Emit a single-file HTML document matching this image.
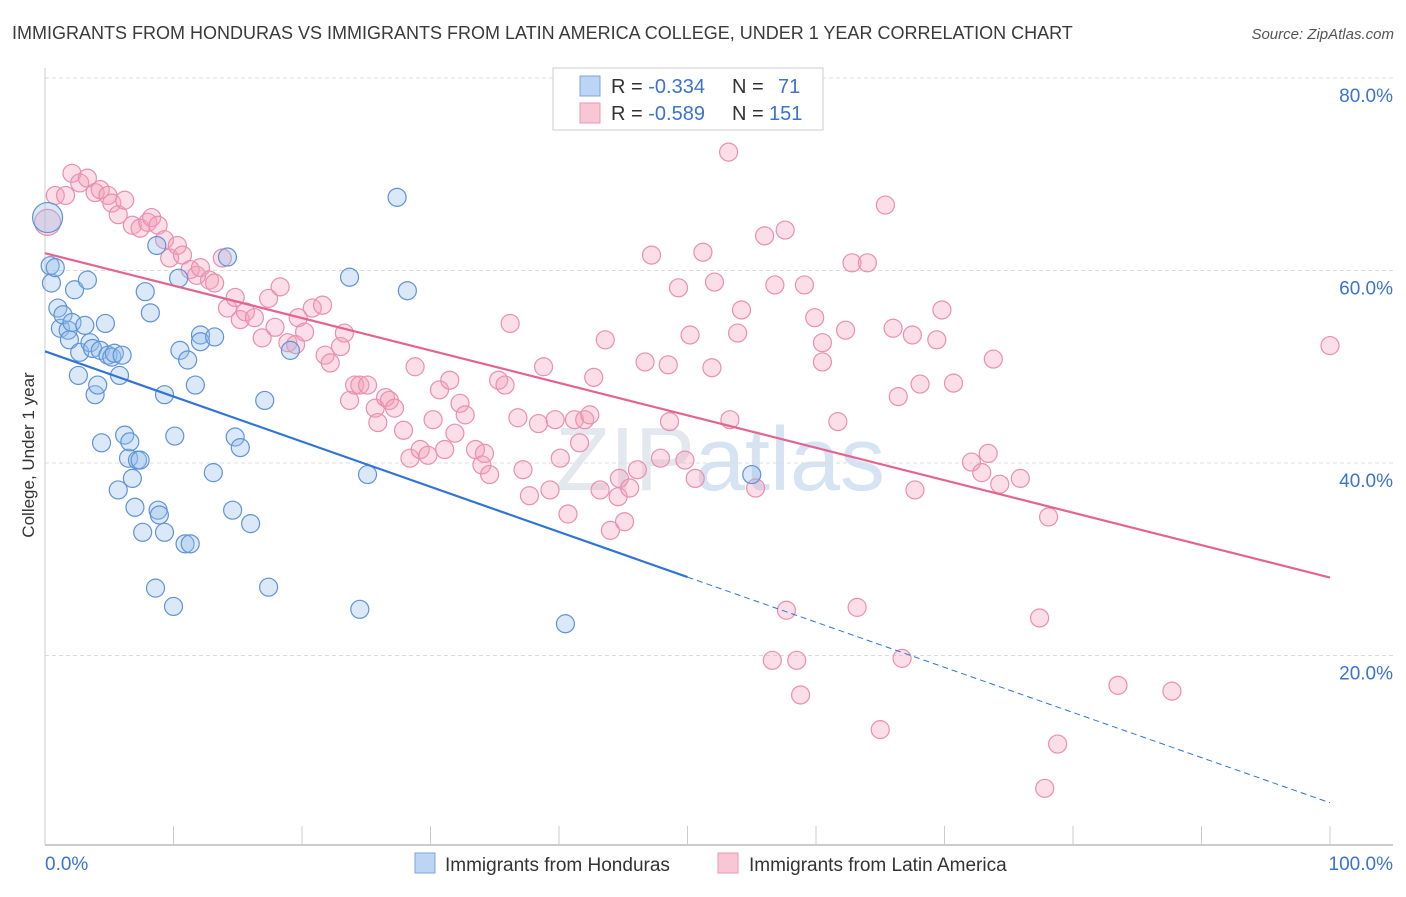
<!DOCTYPE html>
<html><head><meta charset="utf-8"><style>
body{margin:0;background:#fff;font-family:"Liberation Sans",sans-serif;}
svg text{font-family:"Liberation Sans",sans-serif;}
</style></head><body>
<svg id="chart" width="1406" height="892" viewBox="0 0 1406 892" xmlns="http://www.w3.org/2000/svg">
<text x="12" y="39" font-size="18" fill="#3a3a3a">IMMIGRANTS FROM HONDURAS VS IMMIGRANTS FROM LATIN AMERICA COLLEGE, UNDER 1 YEAR CORRELATION CHART</text>
<text x="1394" y="39" font-size="15" fill="#555" text-anchor="end" font-style="italic">Source: ZipAtlas.com</text>
<text x="720" y="490" font-size="90" fill="#e3e8ee" text-anchor="middle" font-family="Liberation Serif">ZIP<tspan fill="#d5e3f3" font-family="Liberation Sans">atlas</tspan></text>
<g id="grid"></g>
<g id="axes"></g>
<g id="pink"></g>
<g id="blue"></g>
<g id="trends"></g>
<text transform="translate(34,455) rotate(-90)" font-size="17" fill="#333" text-anchor="middle">College, Under 1 year</text>
<g>
<rect x="553" y="68" width="270" height="62" fill="#fff" stroke="#ccc"/>
<rect x="580" y="76" width="20" height="20" fill="#bcd5f5" stroke="#7aa6dc"/>
<text x="611" y="93" font-size="20" fill="#333">R = <tspan fill="#3b73d0">-0.334</tspan><tspan x="732">N = </tspan><tspan x="778" fill="#3b73d0">71</tspan></text>
<rect x="580" y="103" width="20" height="20" fill="#f9c6d5" stroke="#eb97b2"/>
<text x="611" y="120" font-size="20" fill="#333">R = <tspan fill="#3b73d0">-0.589</tspan><tspan x="732">N = </tspan><tspan x="769" fill="#3b73d0">151</tspan></text>
</g>
<g>
<rect x="415" y="853" width="20" height="20" fill="#bcd5f5" stroke="#7aa6dc"/>
<text x="445" y="871" font-size="19" fill="#333">Immigrants from Honduras</text>
<rect x="718" y="853" width="20" height="20" fill="#f9c6d5" stroke="#eb97b2"/>
<text x="749" y="871" font-size="19" fill="#333">Immigrants from Latin America</text>
</g>
</svg>
<script>
const blueX=[0.2,0.4,0.5,0.8,1.0,1.2,1.4,1.8,1.9,2.1,2.3,2.6,2.7,3.1,3.3,3.5,3.7,3.9,4.1,4.3,4.4,4.7,4.9,5.2,5.4,5.7,5.8,6.0,6.2,6.5,6.6,6.8,7.0,7.2,7.4,7.6,7.8,8.2,8.6,8.7,8.8,8.9,9.3,9.3,10.0,10.1,10.4,10.5,10.9,11.1,11.3,11.7,12.1,12.1,13.1,13.2,14.2,14.6,14.8,15.2,16.0,17.1,17.4,19.1,23.7,24.5,25.1,27.4,28.2,40.5,55.0];
const blueY=[65.5,60.5,58.7,60.3,56.1,54.0,55.4,53.8,52.8,54.6,58.0,49.1,51.5,54.3,59.0,52.5,51.9,47.1,48.1,51.7,42.1,54.5,51.2,51.0,51.4,37.2,49.1,51.2,42.9,40.5,42.2,38.4,35.4,40.3,40.3,32.8,57.8,55.6,27.0,62.6,35.1,34.6,47.1,32.8,25.1,42.8,59.2,51.7,31.6,50.7,31.6,48.1,53.3,52.6,39.0,53.1,61.4,35.1,42.7,41.6,33.7,46.5,27.1,51.7,59.3,24.8,38.8,67.6,57.9,23.3,38.8];
const pinkX=[0.2,0.8,1.6,2.1,2.7,3.3,3.9,4.3,4.9,5.2,5.7,6.2,6.8,7.4,8.0,8.3,8.8,9.3,9.7,10.3,10.7,11.3,11.8,12.1,12.8,13.2,13.8,14.2,14.8,15.2,15.6,16.3,16.9,17.4,17.9,18.3,18.9,19.5,19.7,20.2,20.8,21.6,21.8,22.2,23.0,23.3,23.7,24.1,24.5,25.1,25.7,25.9,26.5,26.8,27.2,27.9,28.4,28.8,29.2,29.8,30.2,30.7,31.1,31.5,31.9,32.3,32.7,33.5,34.0,34.2,34.6,35.3,35.8,36.2,36.8,37.2,37.7,38.4,38.8,39.3,39.7,40.1,40.7,41.2,41.6,42.0,42.4,42.7,43.2,43.6,44.0,44.6,44.7,45.1,45.5,46.1,46.7,47.2,47.9,48.5,48.6,49.3,49.8,50.2,50.6,51.2,51.9,52.1,53.2,53.3,53.9,54.2,55.3,56.0,56.6,56.8,57.6,57.7,58.5,58.8,59.1,59.9,60.5,60.5,61.7,62.3,62.8,63.2,64.0,65.0,65.4,66.0,66.4,66.7,67.5,67.7,68.1,69.4,69.8,70.7,72.1,72.9,73.4,73.8,74.3,75.9,77.4,78.1,77.8,78.8,83.5,87.7,100.0];
const pinkY=[65.0,67.8,67.8,70.1,69.1,69.6,68.1,68.4,67.8,67.0,65.8,67.3,64.7,64.4,65.0,65.5,64.7,63.2,61.3,62.6,61.6,60.1,59.5,60.3,59.0,58.7,61.3,56.1,57.2,54.9,55.7,55.1,53.0,57.1,54.1,58.3,52.5,52.3,55.1,53.6,56.1,56.4,51.2,50.4,52.1,53.5,46.5,48.1,48.1,48.1,45.7,44.2,46.8,46.5,45.7,43.4,40.5,50.0,41.4,40.8,44.5,47.6,41.4,48.6,43.1,46.2,45.0,41.4,39.8,41.0,38.8,48.6,48.1,54.5,44.7,39.3,36.6,44.1,50.0,37.2,44.5,40.5,34.7,44.5,42.1,44.5,45.0,48.9,37.2,52.8,33.0,36.5,38.4,33.9,37.4,39.3,50.5,61.6,40.5,50.2,44.3,58.2,40.3,53.3,38.4,61.9,49.9,58.8,72.3,44.5,53.5,55.9,37.4,63.6,19.5,58.5,64.2,24.7,19.5,15.9,58.5,55.1,52.5,50.5,44.3,53.8,60.8,25.0,60.8,12.3,66.8,54.0,46.9,19.7,53.3,37.2,48.2,52.8,55.9,48.3,40.1,39.0,41.0,50.8,37.8,38.4,23.9,34.4,6.2,10.8,16.9,16.3,52.2];
const blueTrend=[51.6,4.7];
const pinkTrend=[61.8,28.1];
const yTicks=[20,40,60,80];
const yTickLabels=["20.0%","40.0%","60.0%","80.0%"];
const xTicks=[0,10,20,30,40,50,60,70,80,90,100];

const NS="http://www.w3.org/2000/svg";
const X=v=>45+v*12.85;
const Y=v=>848-v*9.625;
function mk(parent,tag,attrs){const e=document.createElementNS(NS,tag);for(const k in attrs)e.setAttribute(k,attrs[k]);document.getElementById(parent).appendChild(e);return e;}

yTicks.forEach((t,i)=>{
  const g=mk('grid','line',{x1:45,x2:1393,y1:Y(t),y2:Y(t),stroke:'#dcdcdc','stroke-dasharray':'4,3'});
  
  
  const l=mk('grid','text',{x:1393,y:Y(t)+24,'font-size':19,fill:'#3b73d0','text-anchor':'end'});
  l.textContent=yTickLabels[i];
  
  
});
const ax=mk('axes','line',{x1:45,x2:1393,y1:845,y2:845,stroke:'#bbb','stroke-width':1.5});


const ay=mk('axes','line',{x1:45,x2:45,y1:68,y2:845,stroke:'#ccc'});


xTicks.forEach(t=>{
  const tk=mk('axes','line',{x1:X(t),x2:X(t),y1:826,y2:845,stroke:'#ccc'});
  
  
});
const x0=mk('axes','text',{x:45,y:870,'font-size':19,fill:'#3b73d0'});x0.textContent='0.0%';


const x1=mk('axes','text',{x:1393,y:870,'font-size':19,fill:'#3b73d0','text-anchor':'end'});x1.textContent='100.0%';



pinkX.forEach((v,i)=>{
  const c=mk('pink','circle',{cx:X(v),cy:Y(pinkY[i]),r:i===0?13:9,fill:'rgba(244,160,187,0.35)',stroke:'#ea8fae','stroke-width':1.2});
  
  
});
blueX.forEach((v,i)=>{
  const c=mk('blue','circle',{cx:X(v),cy:Y(blueY[i]),r:i===0?15:9,fill:'rgba(150,190,235,0.35)',stroke:'#5f93d8','stroke-width':1.2});
  
  
});
const bAt=p=>blueTrend[0]+(blueTrend[1]-blueTrend[0])*p/100;
const tb=mk('trends','line',{x1:X(0),y1:Y(bAt(0)),x2:X(50),y2:Y(bAt(50)),stroke:'#2f74d6','stroke-width':2.2});


const tbd=mk('trends','line',{x1:X(50),y1:Y(bAt(50)),x2:X(100),y2:Y(bAt(100)),stroke:'#2f74d6','stroke-width':1,'stroke-dasharray':'6,4'});


const tp=mk('trends','line',{x1:X(0),y1:Y(pinkTrend[0]),x2:X(100),y2:Y(pinkTrend[1]),stroke:'#e4638f','stroke-width':2.2});


</script>
</body></html>
